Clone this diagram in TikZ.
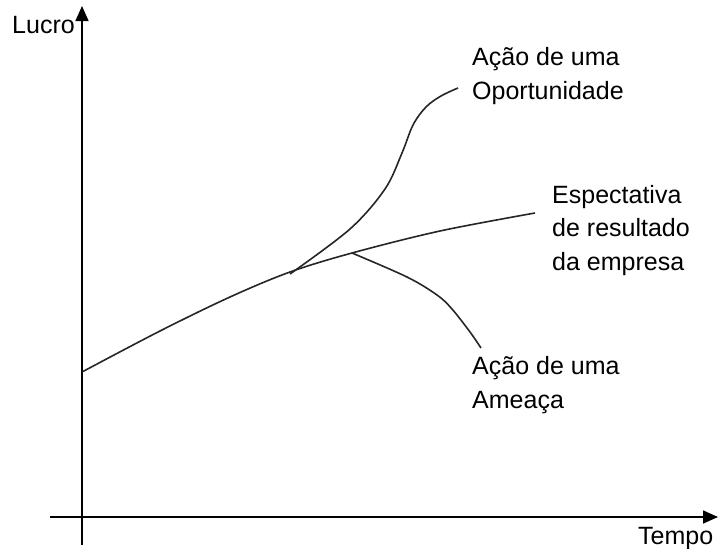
\documentclass[tikz,border=0pt]{standalone}
\usepackage{fontspec}
\setmainfont{Liberation Sans}
\usetikzlibrary{arrows.meta}
\begin{document}
\begin{tikzpicture}[x=1pt,y=-1pt,
  axis/.style={line width=1.6pt,-{Triangle[length=15pt,width=13pt]}},
  curve/.style={line width=1.6pt,black!85},
  lbl/.style={inner sep=0pt,anchor=base west,align=left,font=\fontsize{25}{33.5}\selectfont}]
\useasboundingbox (0,0) rectangle (718,549);
% axes
\coordinate (ybot) at (82,545);
\coordinate (ytop) at (82,6);
\coordinate (xleft) at (50,517);
\coordinate (xright) at (718,517);
\draw[axis] (ybot) -- (ytop);
\draw[axis] (xleft) -- (xright);
\node[lbl] (lucro) at (12,33) {Lucro};
\node[lbl] (tempo) at (638,544) {Tempo};
% curve points
\coordinate (m0) at (82,372);
\coordinate (m1) at (160,331);
\coordinate (m2) at (230,297);
\coordinate (m3) at (290,272);
\coordinate (m4) at (352,253);
\coordinate (m5) at (440,231);
\coordinate (m6) at (535,213);
\draw[curve] plot[smooth,tension=0.55] coordinates {(m0) (m1) (m2) (m3) (m4) (m5) (m6)};
% opportunity
\coordinate (o0) at (290,274);
\coordinate (o1) at (350,229);
\coordinate (o2) at (385,189);
\coordinate (o3) at (402,153);
\coordinate (o4) at (413,125);
\coordinate (o5) at (426,107);
\coordinate (o6) at (441,96);
\coordinate (o7) at (458,88);
\draw[curve] plot[smooth,tension=0.55] coordinates {(o0) (o1) (o2) (o3) (o4) (o5) (o6) (o7)};
% threat
\coordinate (t0) at (352,253);
\coordinate (t1) at (407,277);
\coordinate (t2) at (437,295);
\coordinate (t3) at (452,309);
\coordinate (t4) at (470,332);
\coordinate (t5) at (481,348);
\draw[curve] plot[smooth,tension=0.55] coordinates {(t0) (t1) (t2) (t3) (t4) (t5)};
% labels (base = baseline of last line)
\node[lbl] (opp) at (472,99) {Ação de uma\\Oportunidade};
\node[lbl] (esp) at (552,270) {Espectativa\\de resultado\\da empresa};
\node[lbl] (ame) at (472,408) {Ação de uma\\Ameaça};
\end{tikzpicture}
\end{document}
